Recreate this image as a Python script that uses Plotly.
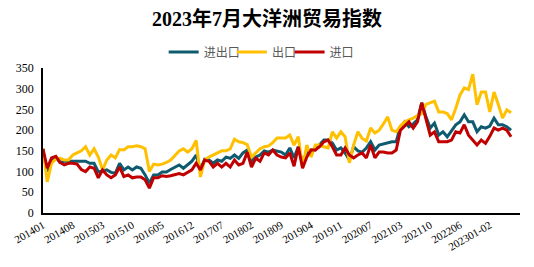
import plotly.graph_objects as go

# Categories: monthly 2014-2019, Jan-Feb combined from 2020
categories = []
for yr in range(2014, 2020):
    for m in range(1, 13):
        categories.append(f"{yr}{m:02d}")
for yr in range(2020, 2023):
    categories.append(f"{yr}01-02")
    for m in range(3, 13):
        categories.append(f"{yr}{m:02d}")
categories.append("202301-02")
for m in range(3, 8):
    categories.append(f"2023{m:02d}")

total = [150, 100, 128, 135, 122, 125, 125, 125, 125, 125,
         125, 120, 120, 99, 102, 104, 98, 96, 120, 104,
         111, 104, 111, 108, 92, 72, 92, 92, 99, 99,
         105, 110, 116, 108, 116, 125, 140, 105, 130, 128,
         120, 128, 125, 135, 132, 140, 132, 145, 152, 125,
         135, 140, 150, 147, 152, 150, 147, 140, 157, 133,
         160, 121, 147, 152, 152, 165, 176, 176, 169, 152,
         157, 145, 128, 160, 150, 147, 157, 172, 152, 164,
         167, 169, 172, 172, 208, 220, 208, 215, 225, 266,
         232, 205, 217, 188, 196, 184, 200, 213, 220, 237,
         220, 220, 196, 208, 205, 210, 229, 213, 213, 208, 200]

export = [155, 75, 120, 130, 132, 128, 128, 140, 145, 150,
          160, 140, 155, 135, 104, 128, 140, 133, 153, 152,
          160, 160, 162, 160, 155, 100, 118, 116, 118, 122,
          128, 140, 150, 155, 147, 155, 175, 87, 128, 135,
          140, 145, 150, 150, 155, 178, 172, 170, 165, 135,
          145, 155, 160, 162, 170, 181, 181, 181, 188, 164,
          184, 109, 164, 135, 164, 164, 160, 157, 196, 181,
          196, 184, 121, 164, 196, 180, 174, 205, 193, 200,
          215, 232, 200, 196, 210, 220, 225, 229, 235, 240,
          262, 266, 270, 244, 244, 240, 225, 253, 285, 302,
          298, 335, 261, 292, 292, 244, 292, 262, 229, 249, 242]

imports = [155, 108, 133, 137, 122, 116, 120, 120, 118, 105,
           100, 111, 108, 85, 104, 92, 85, 92, 111, 88,
           92, 85, 87, 87, 80, 60, 85, 85, 90, 88,
           90, 92, 95, 92, 98, 104, 120, 104, 128, 125,
           111, 120, 111, 120, 111, 128, 116, 120, 147, 111,
           132, 125, 145, 140, 152, 140, 135, 133, 145, 113,
           160, 108, 135, 152, 152, 160, 172, 176, 160, 140,
           140, 157, 140, 133, 140, 145, 133, 164, 133, 147,
           147, 145, 145, 152, 200, 210, 220, 205, 220, 266,
           229, 188, 196, 172, 172, 172, 176, 196, 193, 213,
           188, 176, 164, 176, 168, 185, 205, 200, 205, 200, 184]

tick_labels = categories[::7]

series = [("进出口", total, "#0E5A6F", "legend"),
          ("出口", export, "#FFC000", "legend2"),
          ("进口", imports, "#C00000", "legend3")]
legend_x = [0.253, 0.396, 0.517]

fig = go.Figure()
for name, vals, color, lg in series:
    fig.add_trace(go.Scatter(x=categories, y=vals, mode="lines", name=name,
                             line=dict(color=color, width=3), legend=lg))

serif = "Liberation Serif, Times New Roman, serif"
legend_style = dict(orientation="h", xanchor="left", y=1.11, yanchor="middle",
                    font=dict(family="Noto Sans CJK SC", size=12, color="#595959"),
                    itemwidth=30, bgcolor="rgba(0,0,0,0)", borderwidth=0)
fig.update_layout(
    width=534, height=267,
    margin=dict(l=43, r=14, t=68, b=54),
    paper_bgcolor="white", plot_bgcolor="white",
    title=dict(text="<b>2023年7月大洋洲贸易指数</b>", x=0.5, xanchor="center",
               y=0.93, yanchor="middle",
               font=dict(family="Liberation Serif, Noto Sans CJK SC", size=20, color="black")),
    legend=dict(x=legend_x[0], **legend_style),
    legend2=dict(x=legend_x[1], **legend_style),
    legend3=dict(x=legend_x[2], **legend_style),
    showlegend=True,
)
fig.update_xaxes(type="category", range=[0, 112.1], tickmode="array",
                 tickvals=tick_labels, ticktext=tick_labels, tickangle=-30,
                 showline=True, linecolor="black", linewidth=1.5, showgrid=False,
                 ticks="", tickfont=dict(family=serif, size=11, color="black"),
                 zeroline=False)
fig.update_yaxes(range=[0, 350], dtick=50, showline=True, linecolor="black",
                 linewidth=1.5, showgrid=False, ticks="", ticklabelstandoff=5,
                 tickfont=dict(family=serif, size=12, color="black"), zeroline=False)

fig.write_html("out.html")
